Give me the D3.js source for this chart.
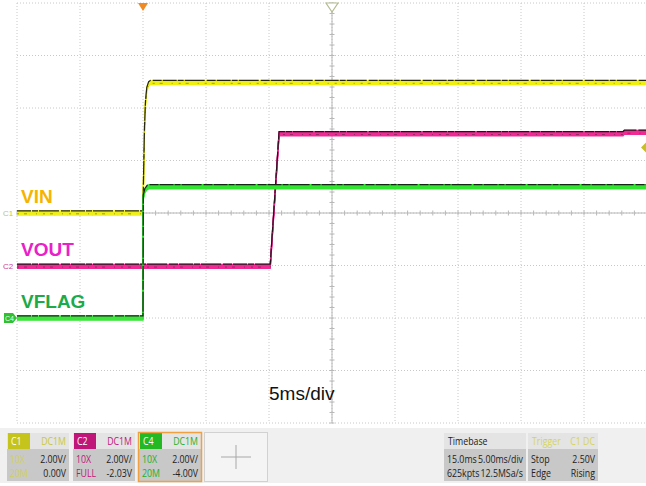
<!DOCTYPE html>
<html>
<head>
<meta charset="utf-8">
<script src="https://cdnjs.cloudflare.com/ajax/libs/d3/7.8.5/d3.min.js"></script>
<style>
  body { margin: 0; background: #fff; }
  svg { display: block; }
  .grid line { stroke: #c8c8c8; stroke-width: 1; stroke-dasharray: 1 2; }
  .axis line { stroke: #b8b8b8; stroke-width: 1; }
  .lbl { font-family: Arial, "Liberation Sans", sans-serif; font-weight: bold; font-size: 19px; }
  .bar text { font-family: "Open Sans", "Noto Sans", sans-serif; font-size: 11px; }
</style>
</head>
<body>
<svg id="svg" width="646" height="486"></svg>
<script>
// time in ms (trigger at 0), volts per channel
var vinTime   = [-10, 0, 0.05, 0.12, 0.2, 0.3, 0.45, 0.6, 40];
var vinVolts  = [0, 0, 1.5, 3.2, 4.2, 4.7, 4.92, 4.97, 4.97];
var voutTime  = [-10, 10.1, 10.8, 38.1, 38.2, 40];
var voutVolts = [0, 0, 5.05, 5.05, 5.1, 5.1];
var flagTime  = [-10, 0, 0.02, 0.15, 0.35, 0.5, 40];
var flagVolts = [0, 0, 4.6, 4.85, 4.98, 5.0, 5.0];

var channels = [
  {name: "VIN",   tag: "C1", time: vinTime,  volts: vinVolts,  scale: 2, offset: 0,     color: "#f0f010", label: "#f5b400"},
  {name: "VOUT",  tag: "C2", time: voutTime, volts: voutVolts, scale: 2, offset: -2.03, color: "#f02a94", label: "#ea20c8"},
  {name: "VFLAG", tag: "C4", time: flagTime, volts: flagVolts, scale: 2, offset: -4,    color: "#30e430", label: "#1eaa46"}
];

var timeTicks = d3.range(-10, 40.01, 5);
var divTicks = d3.range(-4, 4.01, 1);
var triggerLevel = 2.5;
var timeDiv = "5ms/div";

var boxes = [
  {tag: "C1", coupling: "DC1M", rows: [["10X", "2.00V/"], ["20M", "0.00V"]],   head: "#c4c41c", text: "#d0d060"},
  {tag: "C2", coupling: "DC1M", rows: [["10X", "2.00V/"], ["FULL", "-2.03V"]], head: "#c0167a", text: "#c0167a"},
  {tag: "C4", coupling: "DC1M", rows: [["10X", "2.00V/"], ["20M", "-4.00V"]],  head: "#24b824", text: "#24b024"}
];
var timebaseRows = [["15.0ms", "5.00ms/div"], ["625kpts", "12.5MSa/s"]];
var triggerRows = [["Stop", "2.50V"], ["Edge", "Rising"]];

var svg = d3.select("#svg");
var x = d3.scaleLinear().domain([-10, 40]).range([17, 647]);
var y = d3.scaleLinear().domain([-4, 4]).range([423, 3]);

// grid
var grid = svg.append("g").attr("class", "grid");
grid.selectAll(".v").data(timeTicks).join("line")
  .attr("x1", d => x(d)).attr("x2", d => x(d)).attr("y1", y(4)).attr("y2", y(-4));
grid.selectAll(".h").data(divTicks).join("line")
  .attr("x1", x(-10)).attr("x2", x(40)).attr("y1", d => y(d)).attr("y2", d => y(d));

// centre axes with minor ticks
var axis = svg.append("g").attr("class", "axis");
axis.append("line").attr("x1", x(-10)).attr("x2", x(40)).attr("y1", y(0)).attr("y2", y(0));
axis.append("line").attr("x1", x(15)).attr("x2", x(15)).attr("y1", y(4)).attr("y2", y(-4));
axis.selectAll(".mx").data(d3.range(-10, 40.01, 1)).join("line")
  .attr("x1", d => x(d)).attr("x2", d => x(d)).attr("y1", y(0) - 2.5).attr("y2", y(0) + 2.5);
axis.selectAll(".my").data(d3.range(-4, 4.01, 0.2)).join("line")
  .attr("x1", x(15) - 2.5).attr("x2", x(15) + 2.5).attr("y1", d => y(d)).attr("y2", d => y(d));

// traces: a band of thin strokes so flat parts look thick and edges stay thin
channels.forEach(function(ch) {
  var pts = ch.time.map((t, i) => [t, ch.volts[i]]);
  var line = d3.line()
    .x(d => x(d[0]))
    .y(d => y((d[1] + ch.offset) / ch.scale));
  var g = svg.append("g");
  [-2, -1, 0, 1, 2].forEach(function(dy) {
    g.append("path").attr("d", line(pts)).attr("transform", "translate(0," + dy + ")")
      .attr("fill", "none").attr("stroke", ch.color).attr("stroke-width", 1.3);
  });
  g.append("path").attr("d", line(pts)).attr("transform", "translate(0,-2.2)")
    .attr("fill", "none").attr("stroke", "#111").attr("stroke-width", 1.2)
    .attr("stroke-dasharray", "14 1 6 1 20 2 9 1").attr("opacity", 0.9);
  if (ch.tag !== "C4") {
    g.append("path").attr("d", line(pts)).attr("transform", "translate(0,0.8)")
      .attr("fill", "none").attr("stroke", "#222").attr("stroke-width", 0.8)
      .attr("stroke-dasharray", "2 5 3 9 1 6").attr("opacity", 0.5);
  }

  var yg = y(ch.offset / ch.scale);
  svg.append("text").attr("class", "lbl").attr("x", 21).attr("y", yg - 10)
    .attr("fill", ch.label).text(ch.name);
});

// left channel markers
svg.append("text").attr("x", 3).attr("y", y(0) + 3).attr("font-size", 8)
  .attr("font-family", "Arial").attr("fill", "#c8c840").text("C1");
svg.append("text").attr("x", 3).attr("y", y(-1.015) + 3).attr("font-size", 8)
  .attr("font-family", "Arial").attr("fill", "#d0409a").text("C2");
svg.append("path").attr("d", "M4," + (y(-2) - 5) + "h9l4,5l-4,5h-9z").attr("fill", "#30c030");
svg.append("text").attr("x", 5).attr("y", y(-2) + 3).attr("font-size", 7)
  .attr("font-family", "Arial").attr("fill", "#e8ffe8").text("C4");

// top markers: trigger position and centre
var tx = x(0);
svg.append("path").attr("d", "M" + (tx - 5) + ",3h10l-5,8z").attr("fill", "#f08a24");
var cx = x(15);
svg.append("path").attr("d", "M" + (cx - 6) + ",3h12l-6,9z")
  .attr("fill", "#fff").attr("stroke", "#b4bc90").attr("stroke-width", 1.2);
// trigger level marker on the right
var ty = y(triggerLevel / 2);
svg.append("path").attr("d", "M646," + (ty - 5) + "l-5,5l5,5z").attr("fill", "#c8c020");

svg.append("text").attr("x", 269).attr("y", 400)
  .attr("font-family", "Arial, 'Liberation Sans', sans-serif").attr("font-size", 19)
  .attr("fill", "#111").text(timeDiv);

// status bar
var bar = svg.append("g").attr("class", "bar");
bar.append("rect").attr("x", 0).attr("y", 428).attr("width", 646).attr("height", 55).attr("fill", "#f0f0f0");

// condensed text: scale the glyphs horizontally
function ctext(tx, ty, s, color, anchor) {
  bar.append("text").attr("transform", "translate(" + tx + "," + ty + ") scale(0.8,1)")
    .attr("text-anchor", anchor || "start").attr("fill", color).text(s);
}

function infoBox(x0, w, headFill, headText, headRight, headColor, rows, rowColor) {
  bar.append("rect").attr("x", x0).attr("y", 433).attr("width", w).attr("height", 16).attr("fill", "#e4e4e4");
  bar.append("rect").attr("x", x0).attr("y", 449).attr("width", w).attr("height", 32).attr("fill", "#c8c8c8");
  if (headFill) {
    bar.append("rect").attr("x", x0 + 1).attr("y", 433).attr("width", 22).attr("height", 16).attr("fill", headFill);
  }
  ctext(x0 + 4, 445, headText, headFill ? "#fff" : headColor);
  ctext(x0 + w - 3, 445, headRight, headColor, "end");
  rows.forEach(function(r, i) {
    ctext(x0 + 3, 463 + i * 14, r[0], rowColor);
    ctext(x0 + w - 3, 463 + i * 14, r[1], "#222", "end");
  });
}

var bx = [7, 73, 139];
boxes.forEach(function(b, i) {
  infoBox(bx[i], 62, b.head, b.tag, b.coupling, b.tag === "C1" ? "#c8c840" : b.text, b.rows, b.text);
});
bar.append("rect").attr("x", 138.5).attr("y", 432.5).attr("width", 63).attr("height", 49)
  .attr("fill", "none").attr("stroke", "#f0a040").attr("stroke-width", 1.5);

// empty channel slot
bar.append("rect").attr("x", 204.5).attr("y", 432.5).attr("width", 63).attr("height", 49)
  .attr("fill", "#f4f4f4").attr("stroke", "#b0b0b0").attr("stroke-dasharray", "1 1");
bar.append("line").attr("x1", 221).attr("x2", 251).attr("y1", 457).attr("y2", 457).attr("stroke", "#a8a8a8");
bar.append("line").attr("x1", 236).attr("x2", 236).attr("y1", 445).attr("y2", 469).attr("stroke", "#a8a8a8");

infoBox(444, 82, null, "Timebase", "", "#222", timebaseRows, "#222");
infoBox(528, 70, null, "Trigger", "C1 DC", "#d4d45a", triggerRows, "#222");
</script>
</body>
</html>
